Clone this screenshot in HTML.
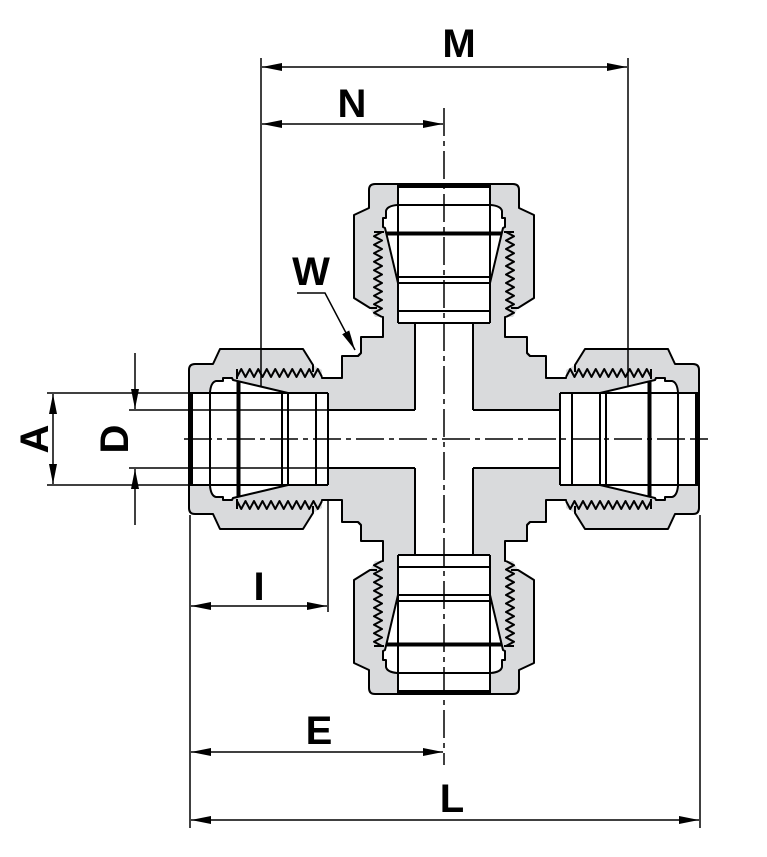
<!DOCTYPE html>
<html><head><meta charset="utf-8"><style>
html,body{margin:0;padding:0;background:#fff}
svg{display:block}
text{font-family:"Liberation Sans",Arial,sans-serif;font-weight:bold;font-size:40px;fill:#000}
</style></head><body>
<svg width="767" height="857" viewBox="0 0 767 857" xmlns="http://www.w3.org/2000/svg">
<defs>
<marker id="ar" viewBox="0 0 20 8" refX="20" refY="4" markerWidth="20" markerHeight="8" markerUnits="userSpaceOnUse" orient="auto-start-reverse">
<path d="M0,0 L20,4 L0,8 Z" fill="#000"/>
</marker>
<g id="gray">
<path d="M189,370 Q189,364 195,364 L213,364 L220,349 L303,349 L313,365 L322,370 L322,378 L342,378 L342,356 L358,356 L361,353 L444,439 L361,525 L358,522 L342,522 L342,500 L322,500 L322,508 L313,513 L303,529 L220,529 L213,514 L195,514 Q189,514 189,508 Z" fill="#d9dadc"/>
</g>
<g id="white">
<rect x="189" y="393" width="139" height="92" fill="#fff"/>
<rect x="328" y="410" width="116" height="58" fill="#fff"/>
<path d="M210,393 L210,387 Q211,382 216,381 L223,381 L223,378 L232,378 L233,380 L288,393 Z" fill="#fff"/>
<path d="M210,485 L210,491 Q211,496 216,497 L223,497 L223,500 L232,500 L233,498 L288,485 Z" fill="#fff"/>
</g>
<g id="lines" fill="none" stroke="#000" stroke-width="2" stroke-linejoin="round">
<path d="M313,372 L313,365 L303,349 L220,349 L213,364 L195,364 Q189,364 189,370 L189,508 Q189,514 195,514 L213,514 L220,529 L303,529 L313,513 L313,506"/>
<polyline points="237,377 241.25,369 245.5,377 249.75,369 254,377 258.25,369 262.5,377 266.75,369 271,377 275.25,369 279.5,377 283.75,369 288,377 292.25,369 296.5,377 300.75,369 305,377 309.25,369 313.5,377 317.75,369 322,377"/>
<polyline points="237,501 241.25,509 245.5,501 249.75,509 254,501 258.25,509 262.5,501 266.75,509 271,501 275.25,509 279.5,501 283.75,509 288,501 292.25,509 296.5,501 300.75,509 305,501 309.25,509 313.5,501 317.75,509 322,501"/>
<polyline points="322,377 322,378 342,378 342,356 358,356 361,353"/>
<polyline points="322,501 322,500 342,500 342,522 358,522 361,525"/>
<line x1="328" y1="410" x2="415" y2="410"/>
<line x1="328" y1="468" x2="415" y2="468"/>
<line x1="189" y1="393" x2="328" y2="393"/>
<line x1="189" y1="485" x2="328" y2="485"/>
<line x1="191" y1="393" x2="191" y2="485" stroke-width="4"/>
<line x1="238.5" y1="381" x2="238.5" y2="497" stroke-width="4"/>
<line x1="282" y1="392" x2="282" y2="486"/>
<line x1="288" y1="393" x2="288" y2="485"/>
<line x1="316" y1="393" x2="316" y2="485"/>
<line x1="328" y1="393" x2="328" y2="485"/>
<path d="M210,486 L210,392 Q211,382 216,381 L223,381 L223,378 L232,378 L233,380 L288,393"/>
<path d="M210,486 Q211,496 216,497 L223,497 L223,500 L232,500 L233,498 L288,485"/>
<line x1="237" y1="369" x2="237" y2="379"/>
<line x1="237" y1="509" x2="237" y2="499"/>
</g>
</defs>

<use href="#gray"/>
<use href="#gray" transform="rotate(90 444 439)"/>
<use href="#gray" transform="rotate(180 444 439)"/>
<use href="#gray" transform="rotate(270 444 439)"/>
<use href="#white"/>
<use href="#white" transform="rotate(90 444 439)"/>
<use href="#white" transform="rotate(180 444 439)"/>
<use href="#white" transform="rotate(270 444 439)"/>
<use href="#lines"/>
<use href="#lines" transform="rotate(90 444 439)"/>
<use href="#lines" transform="rotate(180 444 439)"/>
<use href="#lines" transform="rotate(270 444 439)"/>

<g stroke="#000" stroke-width="1.5" fill="none">
<!-- center lines -->
<line x1="184" y1="439" x2="708" y2="439" stroke-dasharray="28 5 5 5"/>
<line x1="444" y1="108" x2="444" y2="765" stroke-dasharray="28 5 5 5"/>
<!-- extension lines -->
<line x1="261" y1="58" x2="261" y2="386"/>
<line x1="628" y1="58" x2="628" y2="386"/>
<line x1="190" y1="515" x2="190" y2="828"/>
<line x1="700" y1="515" x2="700" y2="828"/>
<line x1="328" y1="500" x2="328" y2="612"/>
<line x1="47" y1="393" x2="189" y2="393"/>
<line x1="47" y1="485" x2="189" y2="485"/>
<line x1="129" y1="410" x2="328" y2="410"/>
<line x1="129" y1="468" x2="328" y2="468"/>
<!-- dimension lines -->
<line x1="262" y1="67" x2="627" y2="67" marker-start="url(#ar)" marker-end="url(#ar)"/>
<line x1="262" y1="124" x2="443" y2="124" marker-start="url(#ar)" marker-end="url(#ar)"/>
<line x1="191" y1="606" x2="327" y2="606" marker-start="url(#ar)" marker-end="url(#ar)"/>
<line x1="191" y1="752" x2="443" y2="752" marker-start="url(#ar)" marker-end="url(#ar)"/>
<line x1="191" y1="820" x2="699" y2="820" marker-start="url(#ar)" marker-end="url(#ar)"/>
<line x1="53" y1="394" x2="53" y2="484" marker-start="url(#ar)" marker-end="url(#ar)"/>
<line x1="135" y1="353" x2="135" y2="409" marker-end="url(#ar)"/>
<line x1="135" y1="525" x2="135" y2="469" marker-end="url(#ar)"/>
<polyline points="297,293 325,293 355,350" marker-end="url(#ar)"/>
</g>

<text x="459" y="57" text-anchor="middle">M</text>
<text x="352" y="117" text-anchor="middle">N</text>
<text x="311" y="285" text-anchor="middle">W</text>
<text x="259" y="600" text-anchor="middle">I</text>
<text x="319" y="744" text-anchor="middle">E</text>
<text x="452" y="812" text-anchor="middle">L</text>
<text transform="translate(48 439) rotate(-90)" text-anchor="middle">A</text>
<text transform="translate(128 439) rotate(-90)" text-anchor="middle">D</text>
</svg>
</body></html>
